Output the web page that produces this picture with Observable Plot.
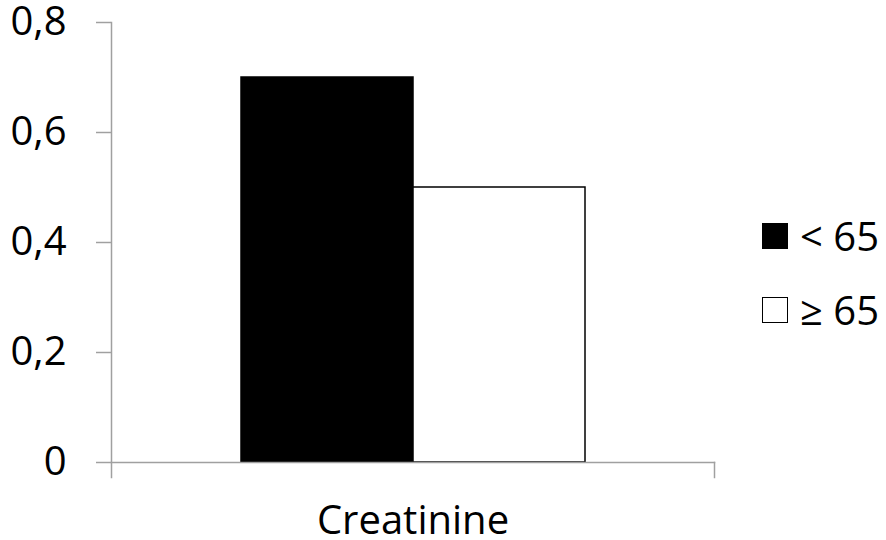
<!DOCTYPE html>
<html><head><meta charset="utf-8">
<script src="https://cdn.jsdelivr.net/npm/d3@7"></script>
<script src="https://cdn.jsdelivr.net/npm/@observablehq/plot@0.6"></script>
<style>
body{margin:0;background:#fff;}
#wrap{position:relative;width:886px;height:540px;font-family:"Open Sans",sans-serif;}
.leg{position:absolute;left:762px;height:40px;display:flex;align-items:center;font-size:40px;color:#000;line-height:1;}
.sw{width:26px;height:26px;box-sizing:border-box;border:1.5px solid #000;margin-right:12px;}
</style></head><body><div id="wrap"></div>
<script>
const categories = ["Creatinine"];
const groups = ["< 65", "≥ 65"];
const values = [0.7, 0.5];
const yTicks = [0, 0.2, 0.4, 0.6, 0.8];
const yTickLabels = ["0", "0,2", "0,4", "0,6", "0,8"];
const fills = ["#000000", "#ffffff"];

const data = groups.map((g, i) => ({category: categories[0], group: g, value: values[i]}));
const axisGray = "#a0a0a0";

const chart = Plot.plot({
  width: 886, height: 540,
  marginLeft: 111, marginRight: 172, marginTop: 22, marginBottom: 78,
  style: {fontFamily: "'Open Sans', sans-serif", fontSize: "40px", color: "#000", background: "#fff", overflow: "visible"},
  fx: {domain: categories, padding: 0, label: null},
  x: {domain: groups, paddingInner: 0, paddingOuter: 0.748, axis: null},
  y: {domain: [0, 0.8], label: null},
  color: {domain: groups, range: fills},
  marks: [
    Plot.barY(data, {fx: "category", x: "group", y: "value", fill: "group", stroke: "#000", strokeWidth: 1.5}),
    Plot.frame({anchor: "left", stroke: axisGray, strokeWidth: 1.5, insetBottom: -15}),
    Plot.frame({anchor: "bottom", stroke: axisGray, strokeWidth: 1.5}),
    Plot.frame({anchor: "right", stroke: axisGray, strokeWidth: 1.5, insetTop: 440, insetBottom: -15}),
    Plot.axisY({ticks: yTicks, tickFormat: d => yTickLabels[yTicks.indexOf(d)], tickSize: 15, tickPadding: 30, stroke: axisGray, strokeWidth: 1.5, label: null}),
    Plot.axisFx({anchor: "bottom", tickSize: 0, tickPadding: 43, label: null})
  ]
});
const wrap = document.getElementById("wrap");
wrap.appendChild(chart);

const legTops = [216, 290];
groups.forEach((g, i) => {
  const row = document.createElement("div");
  row.className = "leg";
  row.style.top = legTops[i] + "px";
  const sw = document.createElement("div");
  sw.className = "sw";
  sw.style.background = fills[i];
  const t = document.createElement("span");
  t.textContent = g;
  row.appendChild(sw); row.appendChild(t);
  wrap.appendChild(row);
});
</script></body></html>
